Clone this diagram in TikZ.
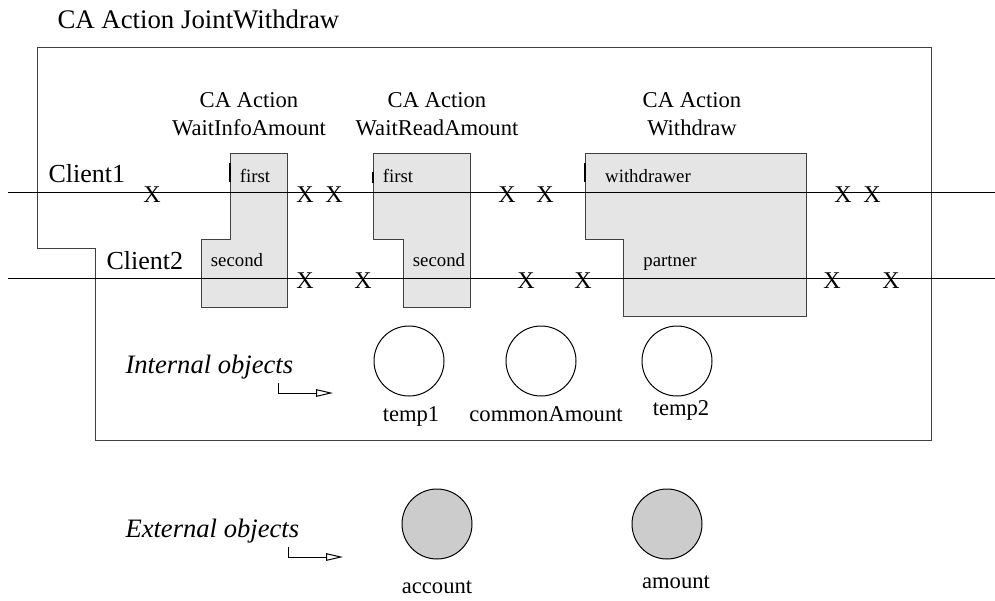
\documentclass[tikz,border=0pt]{standalone}
\usepackage{fontspec}
\setmainfont{Liberation Serif}
\usetikzlibrary{arrows.meta}

\begin{document}
\begin{tikzpicture}[x=0.5pt,y=-0.5pt,line width=0.5pt,
  part/.style={draw=black!75, fill=gray!20},
  role/.style={font=\fontsize{9.4}{11}\selectfont, inner sep=0pt, anchor=base},
  xmark/.style={font=\fontsize{12}{13}\selectfont, inner sep=0pt},
  obj/.style={draw, circle, minimum size=35pt, inner sep=0pt},
  objname/.style={font=\fontsize{11.3}{13}\selectfont, inner sep=0pt, anchor=base},
  hdr/.style={font=\fontsize{11.3}{14}\selectfont, align=center, inner sep=0pt},
  kind/.style={font=\fontsize{13.3}{16}\selectfont\itshape, inner sep=0pt, anchor=base west},
  pointer/.style={-{Triangle[open,length=8.5pt,width=3.8pt]}}]
\useasboundingbox (0,0) rectangle (995,600);

% outer action
\node[font=\fontsize{13.4}{16}\selectfont, inner sep=0pt, anchor=base west] (joint) at (57,28) {CA Action JointWithdraw};
\draw[black!75] (37,47) -- (931,47) -- (931,440) -- (95,440) -- (95,248) -- (37,248) -- cycle;

% nested actions
\draw[part] (230,153) -- (287,153) -- (287,307) -- (201,307) -- (201,239) -- (230,239) -- cycle;
\draw[part] (373,153) -- (470,153) -- (470,307) -- (403,307) -- (403,239) -- (373,239) -- cycle;
\draw[part] (585,153) -- (806,153) -- (806,316) -- (623,316) -- (623,239) -- (585,239) -- cycle;
\draw[line width=0.9pt] (230,163) -- (230,182);
\draw[line width=0.9pt] (373,172) -- (373,183);
\draw[line width=0.9pt] (585,163) -- (585,182);

\node[hdr] (info) at (249,114) {CA Action\\WaitInfoAmount};
\node[hdr] (read) at (437,114) {CA Action\\WaitReadAmount};
\node[hdr] (withdraw) at (692,114) {CA Action\\Withdraw};

\node[role] (first1) at (255,182.5) {first};
\node[role] (second1) at (237,266.5) {second};
\node[role] (first2) at (398,182.5) {first};
\node[role] (second2) at (439,266.5) {second};
\node[role] (withdrawer) at (648,182) {withdrawer};
\node[role] (partner) at (670,266.5) {partner};

% clients
\coordinate (c1w) at (8,192);
\coordinate (c1e) at (995,192);
\coordinate (c2w) at (8,278);
\coordinate (c2e) at (995,278);
\draw (c1w) -- (c1e);
\draw (c2w) -- (c2e);
\node[font=\fontsize{13}{16}\selectfont, inner sep=0pt, anchor=base west] (client1) at (48,182.7) {Client1};
\node[font=\fontsize{13}{16}\selectfont, inner sep=0pt, anchor=base west] (client2) at (106,269) {Client2};

\foreach \x in {152,305,334,507,545,843,872}
  \node[xmark] at (\x,194.5) {X};
\foreach \x in {305,363,526,583,832,891}
  \node[xmark] at (\x,280.5) {X};

% internal objects
\node[kind] (internal) at (125,373) {Internal objects};
\coordinate (ia) at (278,383);
\coordinate (ib) at (333,393);
\draw[pointer] (ia) |- (ib);
\node[obj] (temp1) at (409,361) {};
\node[obj] (common) at (541,361) {};
\node[obj] (temp2) at (677,361) {};
\node[objname] at (411,421.5) {temp1};
\node[objname] at (546,421.5) {commonAmount};
\node[objname] at (681,415) {temp2};

% external objects
\node[kind] (external) at (125,537) {External objects};
\coordinate (ea) at (288,547);
\coordinate (eb) at (343,557);
\draw[pointer] (ea) |- (eb);
\node[obj, fill=gray!40] (account) at (437,524) {};
\node[obj, fill=gray!40] (amount) at (667,524) {};
\node[objname] at (437,593) {account};
\node[objname] at (676,588) {amount};
\end{tikzpicture}
\end{document}
